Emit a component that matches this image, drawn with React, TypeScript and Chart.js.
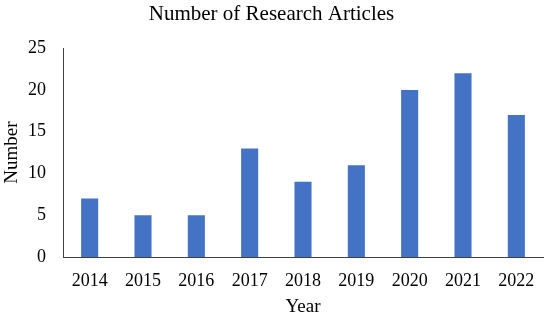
import React, { useEffect, useRef } from "react";
import { Chart, registerables } from "chart.js";

Chart.register(...registerables);

const years = ["2014", "2015", "2016", "2017", "2018", "2019", "2020", "2021", "2022"];
const articles = [7, 5, 5, 13, 9, 11, 20, 22, 17];
const chartTitle = "Number of Research Articles";
const xTitle = "Year";
const yTitle = "Number";

const FONT = "'Liberation Serif', 'Times New Roman', serif";

export default function App() {
  const ref = useRef<HTMLCanvasElement | null>(null);
  useEffect(() => {
    if (!ref.current) return;
    const chart = new Chart(ref.current, {
      type: "bar",
      data: {
        labels: years,
        datasets: [
          {
            data: articles,
            backgroundColor: "#4472C4",
            barPercentage: 0.64,
            categoryPercentage: 0.5,
          },
        ],
      },
      options: {
        animation: false,
        responsive: false,
        maintainAspectRatio: false,
        layout: { padding: { left: 0, right: 7, top: 0, bottom: 0 } },
        plugins: {
          legend: { display: false },
          tooltip: { enabled: false },
          title: {
            display: true,
            text: chartTitle,
            color: "#000",
            font: { family: FONT, size: 21, weight: "normal" },
            padding: { top: 2, bottom: 21 },
          },
        },
        scales: {
          x: {
            grid: { display: false, drawTicks: false },
            border: { display: true, color: "#404040", width: 1 },
            ticks: { color: "#000", font: { family: FONT, size: 18 }, padding: 13, maxRotation: 0 },
            title: {
              display: true,
              text: xTitle,
              color: "#000",
              font: { family: FONT, size: 19 },
              padding: { top: 4, bottom: 3 },
            },
            afterFit: (s: any) => {
              s.height = 64;
            },
          },
          y: {
            min: 0,
            max: 25,
            grid: { display: false, drawTicks: false },
            border: { display: true, color: "#404040", width: 1 },
            ticks: { stepSize: 5, color: "#000", font: { family: FONT, size: 18 }, padding: 17 },
            title: {
              display: true,
              text: yTitle,
              color: "#000",
              font: { family: FONT, size: 19 },
              padding: 1,
            },
            afterFit: (s: any) => {
              s.width = 63;
            },
          },
        },
      },
    });
    return () => chart.destroy();
  }, []);
  return (
    <div style={{ position: "fixed", left: 0, top: 0, width: 550, height: 321, background: "#fff" }}>
      <canvas ref={ref} width={550} height={321} />
    </div>
  );
}
